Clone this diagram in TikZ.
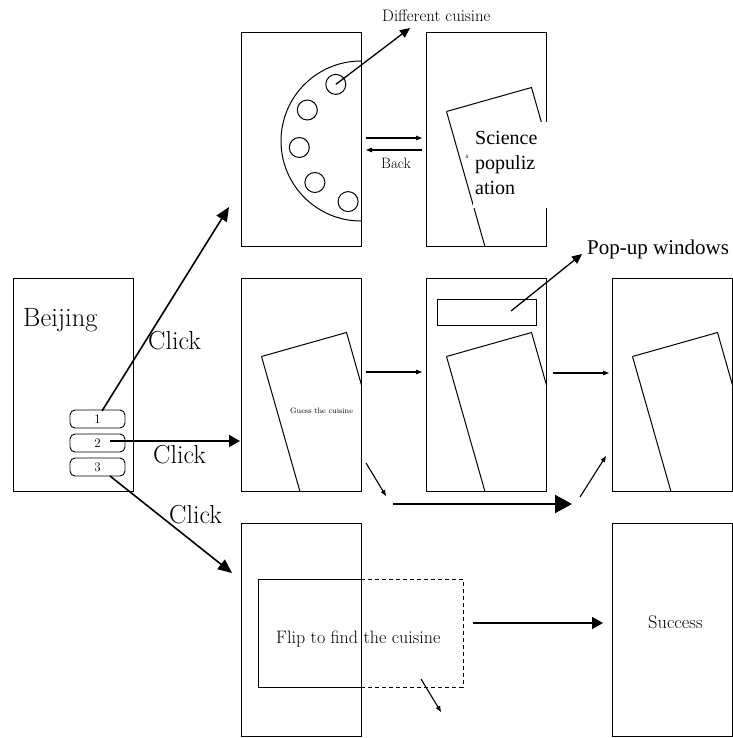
\documentclass[tikz,border=0pt]{standalone}
\usepackage{fontspec}
\newfontfamily\tnr{Liberation Serif}
\usetikzlibrary{arrows.meta}
\newcommand{\tiltcard}[1]{%
  \begin{scope}
    \clip (#1.south west) rectangle (#1.north east);
    \draw[card] ([shift={(20.5,78.5)}]#1.north west) coordinate (#1tl) -- ++(85,-24) -- ++(68.5,240.5);
    \draw[card] (#1tl) -- ++(68.5,240.5);
  \end{scope}}
\begin{document}
\begin{tikzpicture}[x=1pt,y=-1pt,
  frame/.style={draw, line width=1pt, minimum width=120pt, minimum height=213pt, inner sep=0pt, outer sep=0pt, anchor=north west},
  btn/.style={draw, line width=0.9pt, rounded corners=5pt, minimum width=55pt, minimum height=18pt, inner sep=0pt, font=\fontsize{13}{13}\selectfont},
  dish/.style={draw, circle, line width=1pt, minimum size=20pt, inner sep=0pt},
  card/.style={line width=1pt},
  clickarrow/.style={line width=1.6pt, -{Triangle[length=14pt,width=12pt]}},
  smallarrow/.style={line width=1.1pt, -{Triangle[length=6pt,width=4.5pt]}},
  midarrow/.style={line width=1.3pt, -{Triangle[length=10pt,width=9pt]}},
  medarrow/.style={line width=1.6pt, -{Triangle[length=11pt,width=12pt]}},
  bigarrow/.style={line width=2pt, -{Triangle[length=17pt,width=18pt]}},
  lbl/.style={anchor=base west, inner sep=0pt}]
\useasboundingbox (0,0) rectangle (732,738);

% frames
\node[frame] (fT1) at (241,33) {};
\node[frame] (fT2) at (426,33) {};
\node[frame] (fBJ) at (13,278) {};
\node[frame] (fA) at (241,278) {};
\node[frame] (fB) at (426,278) {};
\node[frame] (fC) at (612,278) {};
\node[frame] (fD) at (241,523) {};
\node[frame] (fE) at (612,523) {};

% tilted cards
\tiltcard{fT2}
\tiltcard{fA}
\tiltcard{fB}
\tiltcard{fC}

% semicircle menu
\begin{scope}
  \clip (270,50) rectangle (361,235);
  \draw[line width=1pt] (361,141) circle[radius=80pt];
\end{scope}
\node[dish] (k1) at (335.8,84.4) {};
\node[dish] (k2) at (307.3,110) {};
\node[dish] (k3) at (299.3,147.5) {};
\node[dish] (k4) at (314.9,182.5) {};
\node[dish] (k5) at (348.1,201.6) {};

% science text box
\fill[white] (473,122) rectangle (549,208);
\node[lbl, font=\tnr\fontsize{20}{20}\selectfont] (tS1) at (475,145) {Science};
\node[lbl, font=\tnr\fontsize{20}{20}\selectfont] (tS2) at (475,169) {populiz};
\node[lbl, font=\tnr\fontsize{20}{20}\selectfont] (tS3) at (475,194) {ation};
\node[lbl, font=\tnr\fontsize{7}{7}\selectfont] (tSs) at (465.5,159) {s};

% pop-up window
\node[draw, line width=1pt, anchor=north west, minimum width=99pt, minimum height=26pt, inner sep=0pt] (pop) at (437,299) {};

% Beijing screen
\node[lbl, font=\fontsize{26.5}{26.5}\selectfont] (tBJ) at (23,326) {Beijing};
\node[btn] (b1) at (97.5,419) {1};
\node[btn] (b2) at (97.5,443) {2};
\node[btn] (b3) at (97.5,467) {3};

% texts
\node[lbl, font=\fontsize{16.7}{16.7}\selectfont] (tDC) at (382,22) {Different cuisine};
\node[lbl, font=\fontsize{15}{15}\selectfont] (tBack) at (381,168) {Back};
\node[lbl, font=\fontsize{7.8}{7.8}\selectfont] (tGuess) at (290,413) {Guess the cuisine};
\node[lbl, font=\tnr\fontsize{21}{21}\selectfont] (tPop) at (587,254) {Pop-up windows};
\node[lbl, font=\fontsize{18}{18}\selectfont] (tFlip) at (276,643) {Flip to find the cuisine};
\node[lbl, font=\fontsize{18.4}{18.4}\selectfont] (tSucc) at (648,628) {Success};
\node[lbl, font=\fontsize{26}{26}\selectfont] (tC1) at (148,349) {Click};
\node[lbl, font=\fontsize{26}{26}\selectfont] (tC2) at (153,463) {Click};
\node[lbl, font=\fontsize{26}{26}\selectfont] (tC3) at (169,523) {Click};

% flip card (solid inside, dashed outside)
\draw[line width=1pt] (361,579) -- (258,579) -- (258,687) -- (361,687);
\draw[line width=1pt, dash pattern=on 4pt off 3pt] (361,579) -- (463,579) -- (463,687) -- (361,687);

% connector end points
\coordinate (c1s) at (102,411);  \coordinate (c1e) at (229,207);
\coordinate (c2s) at (110,441);  \coordinate (c2e) at (240,441);
\coordinate (c3s) at (110,476);  \coordinate (c3e) at (232,573);
\coordinate (dce) at (410,28);
\coordinate (t1s) at (366,138);  \coordinate (t1e) at (422,138);
\coordinate (t2s) at (422,150);  \coordinate (t2e) at (366,150);
\coordinate (m1s) at (366,372);  \coordinate (m1e) at (422,372);
\coordinate (m2s) at (553,373);  \coordinate (m2e) at (609,373);
\coordinate (pops) at (511,311); \coordinate (pope) at (582,254);
\coordinate (d1s) at (366,463);  \coordinate (d1e) at (386,496);
\coordinate (d2s) at (393,504);  \coordinate (d2e) at (572,504);
\coordinate (d3s) at (580,497);  \coordinate (d3e) at (606,456);
\coordinate (fs) at (473,623);   \coordinate (fe) at (603,623);
\coordinate (ds) at (421,679);   \coordinate (de) at (441,712);

% connectors
\draw[clickarrow] (c1s) -- (c1e);
\draw[medarrow] (c2s) -- (c2e);
\draw[clickarrow] (c3s) -- (c3e);
\draw[midarrow] (k1.center) -- (dce);
\draw[smallarrow] (t1s) -- (t1e);
\draw[smallarrow] (t2s) -- (t2e);
\draw[smallarrow] (m1s) -- (m1e);
\draw[smallarrow] (m2s) -- (m2e);
\draw[midarrow] (pops) -- (pope);
\draw[smallarrow] (d1s) -- (d1e);
\draw[bigarrow] (d2s) -- (d2e);
\draw[smallarrow] (d3s) -- (d3e);
\draw[medarrow] (fs) -- (fe);
\draw[smallarrow] (ds) -- (de);
\end{tikzpicture}
\end{document}
